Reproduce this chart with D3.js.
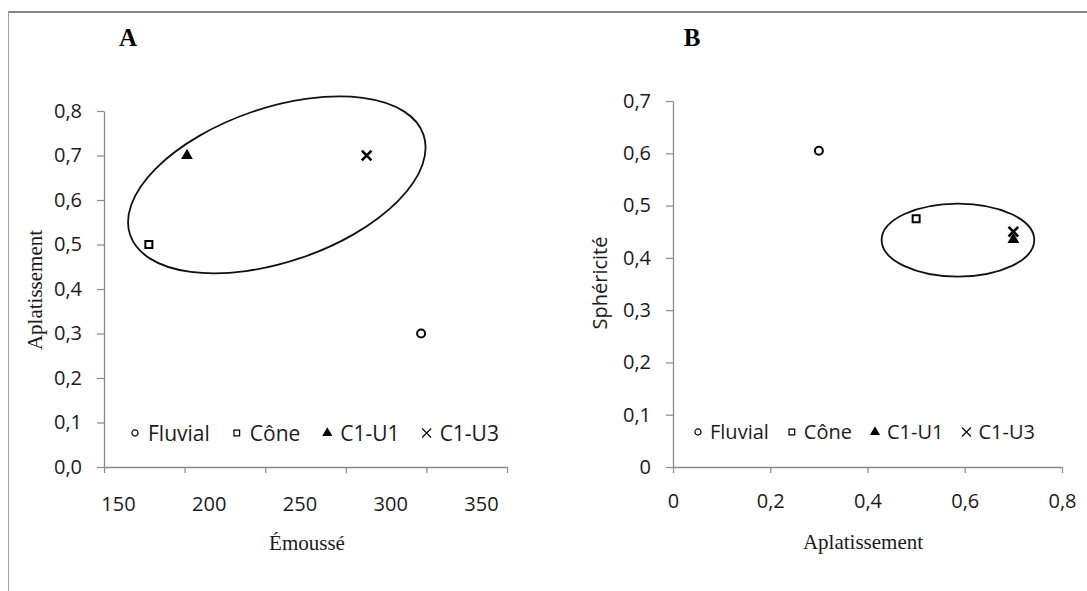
<!DOCTYPE html>
<html>
<head>
<meta charset="utf-8">
<script src="https://cdn.jsdelivr.net/npm/d3@7"></script>
<style>
  html, body { margin: 0; padding: 0; background: #fff; }
  svg { display: block; }
</style>
</head>
<body>
<svg id="chart" width="1087" height="591"></svg>
<script>
// Samples and their morphometric indices
const series = ["Fluvial", "Cône", "C1-U1", "C1-U3"];
const emousse = [317, 167, 188, 287];
const aplatissement = [0.3, 0.5, 0.7, 0.7];
const sphericite = [0.605, 0.475, 0.435, 0.45];

// Axis ticks
const ticksEmousse = [150, 200, 250, 300, 350];
const ticksAplatA = [0, 0.1, 0.2, 0.3, 0.4, 0.5, 0.6, 0.7, 0.8];
const ticksAplatB = [0, 0.2, 0.4, 0.6, 0.8];
const ticksSpher = [0, 0.1, 0.2, 0.3, 0.4, 0.5, 0.6, 0.7];

// Grouping ellipses (centre in data units)
const groupA = { cx: 237.5, cy: 0.634, rx: 155, ry: 77, angle: -18.9 };
const groupB = { cx: 0.586, cy: 0.434, rx: 0.157, ry: 0.0698 };

const svg = d3.select("#chart");
const axisColor = "#8a8a8a";
const tickFont = "'Open Sans', 'Noto Sans', sans-serif";
const serif = "'Liberation Serif', 'Times New Roman', serif";

// Outer frame
svg.append("line").attr("x1", 8).attr("x2", 1087).attr("y1", 12).attr("y2", 12)
  .attr("stroke", "#5a5a5a").attr("stroke-width", 1.5);
svg.append("line").attr("x1", 8.5).attr("x2", 8.5).attr("y1", 12).attr("y2", 591)
  .attr("stroke", "#a0a0a0").attr("stroke-width", 1);

const fmt = v => d3.format(".1f")(v).replace(".", ",");
const fmtB = v => (v === 0 ? "0" : d3.format(".1f")(v).replace(".", ","));

// Marker shapes
const markerPath = {
  "Fluvial": s => d3.symbol(d3.symbolCircle, s.circle)(),
  "Cône": s => d3.symbol(d3.symbolSquare, s.square)(),
  "C1-U1": s => d3.symbol(d3.symbolTriangle, s.triangle)(),
  "C1-U3": s => { const h = s.cross; return `M${-h},${-h}L${h},${h}M${-h},${h}L${h},${-h}`; }
};
function styleMarker(sel, name, strong) {
  if (name === "C1-U1") sel.attr("fill", "#000").attr("stroke", "none");
  else if (name === "C1-U3") sel.attr("fill", "none").attr("stroke", "#000").attr("stroke-width", strong ? 2.6 : 1.1);
  else sel.attr("fill", "#fff").attr("stroke", "#000").attr("stroke-width", strong ? 2 : 1.2);
}
const plotSize = { circle: 50, square: 49, triangle: 60, cross: 4.8 };
const legendSize = { circle: 30, square: 32, triangle: 44, cross: 4.5 };

function drawLegend(g, x0, y, fontSize, textGap, itemGap) {
  let cursor = x0;
  series.forEach(name => {
    const m = g.append("path").attr("d", markerPath[name](legendSize))
      .attr("transform", `translate(${cursor},${y})`);
    styleMarker(m, name, false);
    const t = g.append("text").attr("x", cursor + textGap).attr("y", y)
      .attr("dy", "0.36em").attr("font-family", tickFont).attr("font-size", fontSize)
      .attr("fill", "#1a1a1a").text(name);
    cursor = cursor + textGap + t.node().getComputedTextLength() + itemGap;
  });
}

function styleAxis(g) {
  g.select(".domain").attr("stroke", axisColor).attr("stroke-width", 1.3);
  g.selectAll(".tick line").attr("stroke", axisColor).attr("stroke-width", 1.2);
  g.selectAll(".tick text").attr("font-family", tickFont).attr("font-size", 20).attr("fill", "#1a1a1a");
}

// ---------- Panel A : Émoussé vs Aplatissement ----------
const gA = svg.append("g");
const xA = d3.scaleLinear().domain([150, 350]).range([118, 481]);
const xAframe = d3.scaleLinear().domain([0, 5]).range([104, 507]);
const yA = d3.scaleLinear().domain([0, 0.8]).range([467, 111]);

// frame ticks along the horizontal axis
const axA = gA.append("g").attr("transform", "translate(0,467)")
  .call(d3.axisBottom(xAframe).tickValues(d3.range(0, 6)).tickFormat("").tickSizeInner(6).tickSizeOuter(0));
styleAxis(axA);
// value labels for Émoussé
const axALab = gA.append("g").attr("transform", "translate(0,467)")
  .call(d3.axisBottom(xA).tickValues(ticksEmousse).tickFormat(d3.format("d")).tickSize(0).tickPadding(42));
axALab.select(".domain").remove();
styleAxis(axALab);
axALab.selectAll(".tick text").attr("dy", "0.1em");

const ayA = gA.append("g").attr("transform", "translate(104,0)")
  .call(d3.axisLeft(yA).tickValues(ticksAplatA).tickFormat(fmt).tickSizeInner(7).tickSizeOuter(0).tickPadding(15));
styleAxis(ayA);

// ellipse A
gA.append("ellipse")
  .attr("cx", 0).attr("cy", 0).attr("rx", groupA.rx).attr("ry", groupA.ry)
  .attr("transform", `translate(${xA(groupA.cx)},${yA(groupA.cy)}) rotate(${groupA.angle})`)
  .attr("fill", "none").attr("stroke", "#111").attr("stroke-width", 1.8);

series.forEach((name, i) => {
  const m = gA.append("path").attr("d", markerPath[name](plotSize))
    .attr("transform", `translate(${xA(emousse[i])},${yA(aplatissement[i])})`);
  styleMarker(m, name, true);
});

drawLegend(gA.append("g"), 135, 433, 21, 13, 27);

gA.append("text").attr("x", 128).attr("y", 46).attr("text-anchor", "middle")
  .attr("font-family", serif).attr("font-weight", "bold").attr("font-size", 25).text("A");
gA.append("text").attr("x", 307).attr("y", 550).attr("text-anchor", "middle")
  .attr("font-family", serif).attr("font-size", 21).attr("fill", "#1a1a1a").text("Émoussé");
gA.append("text").attr("transform", "translate(42,290) rotate(-90)").attr("text-anchor", "middle")
  .attr("font-family", serif).attr("font-size", 21).attr("fill", "#1a1a1a").text("Aplatissement");

// ---------- Panel B : Aplatissement vs Sphéricité ----------
const gB = svg.append("g");
const xB = d3.scaleLinear().domain([0, 0.8]).range([673, 1062]);
const yB = d3.scaleLinear().domain([0, 0.7]).range([467, 101]);

const axB = gB.append("g").attr("transform", "translate(0,467)")
  .call(d3.axisBottom(xB).tickValues(ticksAplatB).tickFormat(fmtB).tickSizeInner(6).tickSizeOuter(0).tickPadding(21));
styleAxis(axB);
const ayB = gB.append("g").attr("transform", "translate(673,0)")
  .call(d3.axisLeft(yB).tickValues(ticksSpher).tickFormat(fmtB).tickSizeInner(7).tickSizeOuter(0).tickPadding(15));
styleAxis(ayB);

gB.append("ellipse")
  .attr("cx", xB(groupB.cx)).attr("cy", yB(groupB.cy))
  .attr("rx", xB(groupB.rx) - xB(0)).attr("ry", yB(0) - yB(groupB.ry))
  .attr("fill", "none").attr("stroke", "#111").attr("stroke-width", 1.8);

series.forEach((name, i) => {
  const m = gB.append("path").attr("d", markerPath[name](plotSize))
    .attr("transform", `translate(${xB(aplatissement[i])},${yB(sphericite[i])})`);
  styleMarker(m, name, true);
});

drawLegend(gB.append("g"), 698, 432, 20, 12, 23);

gB.append("text").attr("x", 692).attr("y", 46).attr("text-anchor", "middle")
  .attr("font-family", serif).attr("font-weight", "bold").attr("font-size", 25).text("B");
gB.append("text").attr("x", 863).attr("y", 549).attr("text-anchor", "middle")
  .attr("font-family", serif).attr("font-size", 21).attr("fill", "#1a1a1a").text("Aplatissement");
gB.append("text").attr("transform", "translate(607,283) rotate(-90)").attr("text-anchor", "middle")
  .attr("font-family", tickFont).attr("font-size", 20).attr("fill", "#1a1a1a").text("Sphéricité");
</script>
</body>
</html>
